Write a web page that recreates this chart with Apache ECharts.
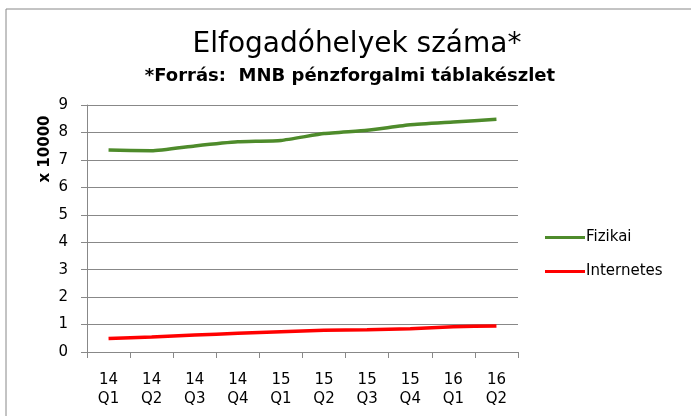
<!DOCTYPE html>
<html><head><meta charset="utf-8">
<script src="https://cdn.jsdelivr.net/npm/echarts@6/dist/echarts.min.js"></script>
<style>html,body{margin:0;padding:0;background:#fff}#c{width:691px;height:416px}</style>
</head><body><div id="c"></div>
<script>
const categories = ['14\nQ1','14\nQ2','14\nQ3','14\nQ4','15\nQ1','15\nQ2','15\nQ3','15\nQ4','16\nQ1','16\nQ2'];
const fizikai = [7.36, 7.33, 7.51, 7.66, 7.71, 7.96, 8.08, 8.28, 8.38, 8.48];
const internetes = [0.49, 0.55, 0.62, 0.68, 0.74, 0.79, 0.81, 0.85, 0.92, 0.95];
const yTicks = [0,1,2,3,4,5,6,7,8,9];
const titleText = 'Elfogadóhelyek száma*';
const subtitleText = '*Forrás:  MNB pénzforgalmi táblakészlet';
const yName = 'x 10000';

const chart = echarts.init(document.getElementById('c'), null, {renderer:'canvas'});
const font = '"DejaVu Sans", sans-serif';
chart.setOption({
  animation:false,
  backgroundColor:'#fff',
  graphic:[
    {type:'rect',shape:{x:6,y:9,width:700,height:420},style:{fill:'none',stroke:'#888',lineWidth:1},silent:true},
    {type:'text',x:45,y:149,rotation:Math.PI/2,style:{text:yName,font:'bold 15px "DejaVu Sans", sans-serif',fill:'#000',align:'center',verticalAlign:'middle'},silent:true}
  ],
  title:[
    {text:titleText,left:352,textAlign:'center',top:26,textStyle:{fontFamily:font,fontSize:28,fontWeight:'normal',color:'#000'}},
    {text:subtitleText,left:345,textAlign:'center',top:62,textStyle:{fontFamily:font,fontSize:18,fontWeight:'bold',color:'#000'}}
  ],
  legend:{
    orient:'vertical',left:540,top:225,itemWidth:40,itemHeight:3,itemGap:19,icon:'rect',
    textStyle:{fontFamily:font,fontSize:15,color:'#000',padding:[0,0,0,-4]},
    data:['Fizikai','Internetes']
  },
  grid:{left:87,right:173,top:105,bottom:64},
  xAxis:{
    type:'category',data:categories,boundaryGap:true,
    axisLine:{lineStyle:{color:'#888',width:1}},
    axisTick:{show:true,length:6,lineStyle:{color:'#888'}},
    axisLabel:{fontFamily:font,fontSize:15,color:'#000',margin:19,lineHeight:19,interval:0}
  },
  yAxis:{
    type:'value',min:0,max:9,interval:1,
    axisLine:{show:true,lineStyle:{color:'#888',width:1}},
    axisTick:{show:true,length:6,lineStyle:{color:'#888'}},
    axisLabel:{fontFamily:font,fontSize:15,color:'#000',margin:19,formatter:v=>yTicks.includes(v)?String(v):''},
    splitLine:{lineStyle:{color:'#888',width:1}}
  },
  series:[
    {name:'Fizikai',type:'line',data:fizikai,symbol:'none',smooth:0.15,lineStyle:{color:'#4e8b2b',width:3.5},itemStyle:{color:'#4e8b2b'}},
    {name:'Internetes',type:'line',data:internetes,symbol:'none',smooth:0.15,lineStyle:{color:'#ff0000',width:3.5},itemStyle:{color:'#ff0000'}}
  ]
});
</script></body></html>
